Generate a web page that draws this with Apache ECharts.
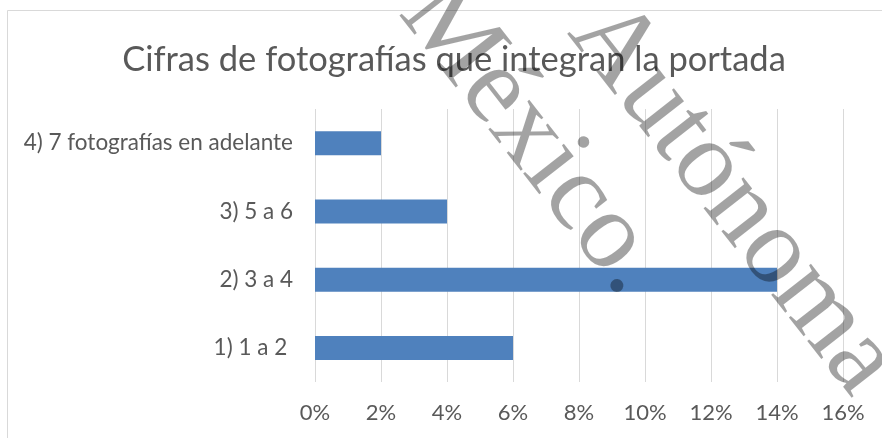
<!DOCTYPE html>
<html>
<head>
<meta charset="utf-8">
<script src="https://cdn.jsdelivr.net/npm/echarts@6/dist/echarts.min.js"></script>
<style>
html,body{margin:0;padding:0;background:#fff;}
#chart{width:882px;height:438px;}
</style>
</head>
<body>
<div id="chart"></div>
<script>
var titleText = 'Cifras de fotografías que integran la portada';
var categories = ['1) 1 a 2 ', '2) 3 a 4', '3) 5 a 6', '4) 7 fotografías en adelante'];
var values = [6, 14, 4, 2];
var xTicks = { min: 0, max: 16, interval: 2 };
var watermarkLines = ['México.', 'Autónoma'];

var chart = echarts.init(document.getElementById('chart'), null, { renderer: 'canvas' });
var rot = -52 * Math.PI / 180;
var option = {
  animation: false,
  backgroundColor: '#ffffff',
  title: {
    text: titleText,
    left: 449,
    textAlign: 'center',
    top: 37,
    textStyle: { fontFamily: 'Lato', fontSize: 34.5, fontWeight: 'normal', color: '#595959' }
  },
  grid: { left: 315, right: 39, top: 109, bottom: 56, containLabel: false },
  xAxis: {
    type: 'value',
    min: xTicks.min, max: xTicks.max, interval: xTicks.interval,
    axisLine: { show: false },
    axisTick: { show: false },
    splitLine: { show: true, lineStyle: { color: '#d9d9d9', width: 1 } },
    axisLabel: {
      formatter: function (v) { return v + '%'; },
      fontFamily: 'Lato', fontSize: 22, color: '#595959', margin: 20
    }
  },
  yAxis: {
    type: 'category',
    data: categories,
    axisLine: { show: false },
    axisTick: { show: false },
    axisLabel: { fontFamily: 'Lato', fontSize: 22.5, color: '#595959', margin: 22 }
  },
  series: [{
    type: 'bar',
    data: values,
    barWidth: 24,
    itemStyle: { color: '#4f81bd' },
    z: 2
  }],
  graphic: [
    {
      type: 'rect', silent: true, z: -1,
      shape: { x: 7.5, y: 10.5, width: 1000, height: 1000 },
      style: { fill: 'none', stroke: '#d9d9d9', lineWidth: 1 }
    },
    {
      type: 'text', silent: true, z: 100,
      x: 377, y: 29, rotation: rot,
      style: {
        text: watermarkLines[0], fontFamily: 'Liberation Serif', fontSize: 110,
        fill: 'rgba(0,0,0,0.36)', textVerticalAlign: 'bottom', textAlign: 'left'
      }
    },
    {
      type: 'text', silent: true, z: 100,
      x: 546, y: 49, rotation: rot,
      style: {
        text: watermarkLines[1], fontFamily: 'Liberation Serif', fontSize: 110,
        fill: 'rgba(0,0,0,0.36)', textVerticalAlign: 'bottom', textAlign: 'left'
      }
    }
  ]
};
chart.setOption(option);
</script>
</body>
</html>
